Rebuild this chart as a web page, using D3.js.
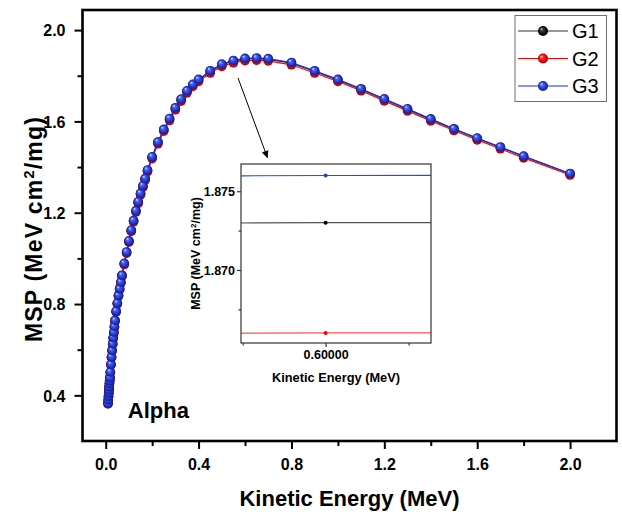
<!DOCTYPE html>
<html><head><meta charset="utf-8">
<script src="https://cdnjs.cloudflare.com/ajax/libs/d3/7.8.5/d3.min.js"></script>
<style>
body{margin:0;background:#fff}
svg{display:block}
text{font-family:"Liberation Sans",Arial,Helvetica,sans-serif}
</style>
</head><body>
<svg id="chart" width="622" height="512"></svg>
<script>
// ---------- data (MeV, MeV cm2/mg) ----------
const energy = [0.010,0.011,0.012,0.013,0.014,0.015,0.016,0.017,0.018,0.020,0.0225,0.025,0.0275,0.030,0.0325,0.035,0.0375,0.040,0.045,0.050,0.055,0.060,0.065,0.070,0.080,0.090,0.100,0.110,0.120,0.130,0.140,0.150,0.160,0.170,0.180,0.200,0.225,0.250,0.275,0.300,0.325,0.350,0.375,0.400,0.450,0.500,0.550,0.600,0.650,0.700,0.800,0.900,1.000,1.100,1.200,1.300,1.400,1.500,1.600,1.700,1.800,2.000];
const g1 = [0.364,0.380,0.395,0.409,0.423,0.437,0.451,0.464,0.477,0.501,0.535,0.567,0.596,0.625,0.652,0.676,0.701,0.727,0.768,0.803,0.837,0.866,0.895,0.925,0.976,1.026,1.075,1.122,1.164,1.207,1.246,1.283,1.316,1.348,1.385,1.443,1.508,1.563,1.610,1.657,1.695,1.731,1.759,1.781,1.819,1.848,1.864,1.873,1.875,1.872,1.855,1.819,1.781,1.740,1.696,1.652,1.608,1.566,1.525,1.486,1.446,1.370];
const g2 = [0.363,0.379,0.394,0.408,0.422,0.436,0.450,0.462,0.475,0.499,0.533,0.565,0.594,0.623,0.649,0.673,0.698,0.724,0.765,0.800,0.834,0.862,0.891,0.921,0.973,1.023,1.071,1.118,1.160,1.203,1.241,1.278,1.311,1.343,1.380,1.437,1.502,1.557,1.604,1.651,1.689,1.725,1.753,1.775,1.812,1.841,1.857,1.866,1.868,1.865,1.848,1.812,1.775,1.734,1.690,1.646,1.602,1.560,1.519,1.480,1.440,1.365];
const g3 = [0.365,0.381,0.396,0.410,0.424,0.438,0.452,0.465,0.478,0.502,0.536,0.568,0.597,0.626,0.653,0.677,0.702,0.728,0.769,0.804,0.838,0.867,0.896,0.926,0.978,1.028,1.077,1.124,1.166,1.209,1.248,1.285,1.318,1.350,1.387,1.445,1.510,1.565,1.613,1.660,1.698,1.734,1.762,1.784,1.822,1.851,1.867,1.876,1.878,1.875,1.858,1.822,1.784,1.743,1.699,1.655,1.611,1.568,1.527,1.488,1.448,1.372];
const seriesNames = ["G1","G2","G3"];

const xTicks = [0.0,0.4,0.8,1.2,1.6,2.0];
const xMinor = [0.2,0.6,1.0,1.4,1.8];
const yTicks = [0.4,0.8,1.2,1.6,2.0];
const yMinor = [0.6,1.0,1.4,1.8];

const insetXTicks = [0.6];
const insetXMinor = [0.5999,0.6001];
const insetYTicks = [1.870,1.875];
const insetYMinor = [1.8675,1.8725];

const arrowFrom = [0.570,1.790];
const arrowTo = [0.697,1.440];
const alphaPos = [0.095,0.302];

// ---------- styles ----------
const styles = [
  {line:"#333333", inLine:"#555555", dot:"#000000", stops:["#d8d8d8","#3a3a3a","#111111","#000000"]},
  {line:"#ff0000", inLine:"#ff5050", dot:"#ff0000", stops:["#ffd6d6","#ff3a3a","#ee0000","#a80000"]},
  {line:"#1030e0", inLine:"#2050e0", dot:"#2040e0", stops:["#e4eaff","#4a64f2","#2236cc","#101c84"]}
];
const seriesValues = [g1,g2,g3];

const svg = d3.select("#chart");
const font = '"Liberation Sans",Arial,sans-serif';

// gradients
const defs = svg.append("defs");
styles.forEach((s,i)=>{
  const g = defs.append("radialGradient").attr("id","ball"+i)
    .attr("cx","50%").attr("cy","50%").attr("r","50%").attr("fx","32%").attr("fy","28%");
  [0,0.3,0.7,1].forEach((o,k)=>g.append("stop").attr("offset",o).attr("stop-color",s.stops[k]));
});
defs.append("marker").attr("id","arrowHead").attr("viewBox","0 0 10 10")
  .attr("refX",10).attr("refY",5).attr("markerWidth",11).attr("markerHeight",7)
  .attr("orient","auto").attr("markerUnits","userSpaceOnUse")
  .append("path").attr("d","M0,0L10,5L0,10Z").attr("fill","#000");

// ---------- main scales ----------
const L=82.5, R=616.5, T=10, B=441;
const x = d3.scaleLinear().domain([-0.1,2.2]).range([L,R]);
const y = d3.scaleLinear().domain([0.2,2.088]).range([B,T]);

// axes
const gx = svg.append("g").attr("transform",`translate(0,${B})`)
  .call(d3.axisBottom(x).tickValues(xTicks).tickSize(8).tickSizeOuter(0).tickFormat(d3.format(".1f")));
const gxm = svg.append("g").attr("transform",`translate(0,${B})`)
  .call(d3.axisBottom(x).tickValues(xMinor).tickSize(5).tickSizeOuter(0).tickFormat(""));
const gy = svg.append("g").attr("transform",`translate(${L},0)`)
  .call(d3.axisLeft(y).tickValues(yTicks).tickSize(8).tickSizeOuter(0).tickFormat(d3.format(".1f")));
const gym = svg.append("g").attr("transform",`translate(${L},0)`)
  .call(d3.axisLeft(y).tickValues(yMinor).tickSize(5).tickSizeOuter(0).tickFormat(""));
[gx,gxm,gy,gym].forEach(g=>{
  g.select(".domain").remove();
  g.selectAll(".tick line").attr("stroke","#000").attr("stroke-width",2);
});
gx.selectAll(".tick text").attr("y",29).attr("dy",null)
  .attr("font-size",16).attr("font-weight","bold").attr("font-family",font).attr("fill","#000");
gy.selectAll(".tick text").attr("x",-17).attr("dy","0.36em")
  .attr("font-size",16).attr("font-weight","bold").attr("font-family",font).attr("fill","#000");

// frame
svg.append("rect").attr("x",L).attr("y",T).attr("width",R-L).attr("height",B-T)
  .attr("fill","none").attr("stroke","#000").attr("stroke-width",2.6);

// axis titles
svg.append("text").attr("x",(L+R)/2).attr("y",506).attr("text-anchor","middle")
  .attr("font-size",22).attr("font-weight","bold").text("Kinetic Energy (MeV)");
const yt = svg.append("text").attr("transform",`translate(42,229) rotate(-90)`)
  .attr("text-anchor","middle").attr("font-size",23).attr("font-weight","bold")
  .attr("letter-spacing",1.2);
yt.append("tspan").text("MSP (MeV cm");
yt.append("tspan").attr("dy",-8).attr("font-size",14.5).text("2");
yt.append("tspan").attr("dy",8).text("/mg)");

// series
const line = d3.line().x((d,i)=>x(energy[i])).y(d=>y(d));
seriesValues.forEach((vals,si)=>{
  const g = svg.append("g");
  g.append("path").datum(vals).attr("d",line).attr("fill","none")
    .attr("stroke",styles[si].line).attr("stroke-width",1.2);
  g.selectAll("circle").data(vals).join("circle")
    .attr("cx",(d,i)=>x(energy[i])).attr("cy",d=>y(d)).attr("r",4.8)
    .attr("fill",`url(#ball${si})`);
});

// Alpha label
svg.append("text").attr("x",x(alphaPos[0])).attr("y",y(alphaPos[1]))
  .attr("font-size",22).attr("font-weight","bold").text("Alpha");

// arrow
svg.append("line").attr("x1",x(arrowFrom[0])).attr("y1",y(arrowFrom[1]))
  .attr("x2",x(arrowTo[0])).attr("y2",y(arrowTo[1]))
  .attr("stroke","#000").attr("stroke-width",1).attr("marker-end","url(#arrowHead)");

// legend
const lg = svg.append("g");
lg.append("rect").attr("x",515).attr("y",15.5).attr("width",91.5).attr("height",86)
  .attr("fill","#fff").attr("stroke","#707070").attr("stroke-width",1);
seriesNames.forEach((n,i)=>{
  const cy = 31 + i*27.5;
  lg.append("line").attr("x1",518).attr("x2",568).attr("y1",cy).attr("y2",cy)
    .attr("stroke",styles[i].line).attr("stroke-width",1.2);
  lg.append("circle").attr("cx",543).attr("cy",cy).attr("r",5).attr("fill",`url(#ball${i})`);
  lg.append("text").attr("x",572).attr("y",cy+7).attr("font-size",20).text(n);
});

// ---------- inset ----------
const iL=241, iR=431, iT=164, iB=343;
const xi = d3.scaleLinear().domain([0.599898,0.600127]).range([iL,iR]);
const yi = d3.scaleLinear().domain([1.86536,1.87673]).range([iB,iT]);
svg.append("rect").attr("x",iL).attr("y",iT).attr("width",iR-iL).attr("height",iB-iT).attr("fill","#fff");
defs.append("clipPath").attr("id","insetClip").append("rect")
  .attr("x",iL).attr("y",iT).attr("width",iR-iL).attr("height",iB-iT);

const ig = svg.append("g").attr("clip-path","url(#insetClip)");
const lineI = d3.line().x((d,i)=>xi(energy[i])).y(d=>yi(d));
const [dx0,dx1] = xi.domain();
seriesValues.forEach((vals,si)=>{
  ig.append("path").datum(vals).attr("d",lineI).attr("fill","none")
    .attr("stroke",styles[si].inLine).attr("stroke-width",1.2);
  ig.selectAll(null).data(vals.map((v,i)=>[energy[i],v]).filter(d=>d[0]>=dx0&&d[0]<=dx1))
    .join("circle").attr("cx",d=>xi(d[0])).attr("cy",d=>yi(d[1])).attr("r",2)
    .attr("fill",styles[si].dot);
});

svg.append("rect").attr("x",iL).attr("y",iT).attr("width",iR-iL).attr("height",iB-iT)
  .attr("fill","none").attr("stroke","#333").attr("stroke-width",1.2);

const gxi = svg.append("g").attr("transform",`translate(0,${iB})`)
  .call(d3.axisBottom(xi).tickValues(insetXTicks).tickSize(4).tickSizeOuter(0).tickFormat(d3.format(".5f")));
const gxim = svg.append("g").attr("transform",`translate(0,${iB})`)
  .call(d3.axisBottom(xi).tickValues(insetXMinor).tickSize(2.5).tickSizeOuter(0).tickFormat(""));
const gyi = svg.append("g").attr("transform",`translate(${iL},0)`)
  .call(d3.axisLeft(yi).tickValues(insetYTicks).tickSize(4).tickSizeOuter(0).tickFormat(d3.format(".3f")));
const gyim = svg.append("g").attr("transform",`translate(${iL},0)`)
  .call(d3.axisLeft(yi).tickValues(insetYMinor).tickSize(2.5).tickSizeOuter(0).tickFormat(""));
[gxi,gxim,gyi,gyim].forEach(g=>{
  g.select(".domain").remove();
  g.selectAll(".tick line").attr("stroke","#333").attr("stroke-width",1.2);
});
gxi.selectAll(".tick text").attr("y",16).attr("dy",null)
  .attr("font-size",12.5).attr("font-weight","bold").attr("font-family",font).attr("fill","#000");
gyi.selectAll(".tick text").attr("x",-6).attr("dy","0.36em")
  .attr("font-size",12.5).attr("font-weight","bold").attr("font-family",font).attr("fill","#000");

svg.append("text").attr("x",(iL+iR)/2).attr("y",382).attr("text-anchor","middle")
  .attr("font-size",12.8).attr("font-weight","bold").text("Kinetic Energy (MeV)");
const yti = svg.append("text").attr("transform",`translate(200,${(iT+iB)/2}) rotate(-90)`)
  .attr("text-anchor","middle").attr("font-size",12.5).attr("font-weight","bold");
yti.append("tspan").text("MSP (MeV cm");
yti.append("tspan").attr("dy",-4.5).attr("font-size",8).text("2");
yti.append("tspan").attr("dy",4.5).text("/mg)");
</script>
</body></html>
